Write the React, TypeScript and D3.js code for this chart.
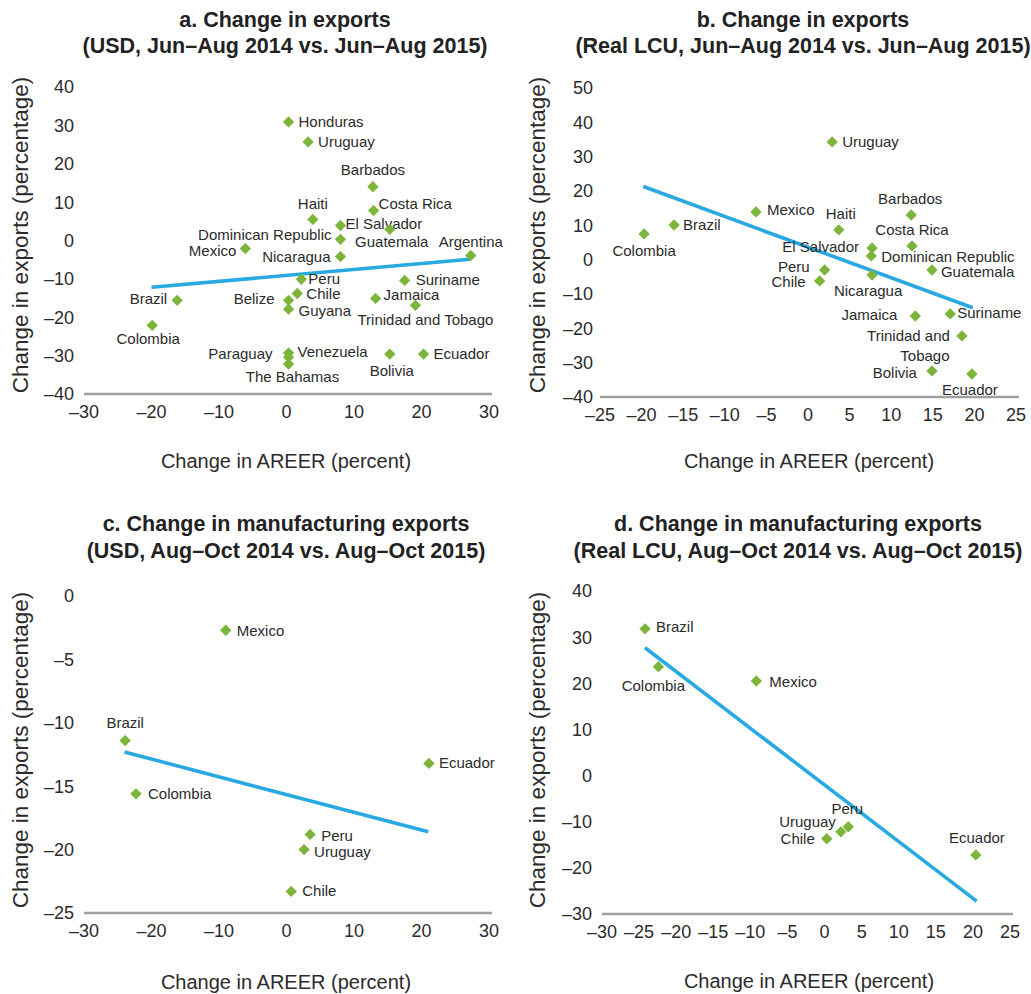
import React from "react";
import * as d3 from "d3";

// ---------- Panel a: USD, Jun–Aug ----------
const aNames = ["Honduras", "Uruguay", "Barbados", "Costa Rica", "Haiti", "El Salvador", "Guatemala", "Dominican Republic", "Mexico", "Nicaragua", "Argentina", "Peru", "Suriname", "Chile", "Brazil", "Belize", "Jamaica", "Trinidad and Tobago", "Guyana", "Colombia", "Venezuela", "Paraguay", "The Bahamas", "Bolivia", "Ecuador"];
const aX = [0.3, 3.2, 12.8, 12.9, 3.9, 8.0, 15.3, 8.0, -6.1, 8.0, 27.3, 2.2, 17.5, 1.6, -16.2, 0.3, 13.2, 19.1, 0.3, -19.9, 0.3, 0.3, 0.3, 15.3, 20.3];
const aY = [30.9, 25.7, 14.0, 7.8, 5.5, 3.9, 2.9, 0.3, -2.1, -4.2, -3.9, -10.1, -10.4, -13.8, -15.6, -15.6, -15.1, -16.9, -17.9, -22.1, -29.3, -30.4, -32.2, -29.6, -29.6];
const aTrendX = [-20.0, 27.2];
const aTrendY = [-12.2, -4.9];
const aXTicks = [-30, -20, -10, 0, 10, 20, 30];
const aYTicks = [-40, -30, -20, -10, 0, 10, 20, 30, 40];

// ---------- Panel b: Real LCU, Jun–Aug ----------
const bNames = ["Uruguay", "Mexico", "Brazil", "Colombia", "Haiti", "Barbados", "Costa Rica", "El Salvador", "Dominican Republic", "Peru", "Chile", "Guatemala", "Nicaragua", "Jamaica", "Suriname", "Trinidad and\nTobago", "Bolivia", "Ecuador"];
const bX = [2.9, -6.25, -16.1, -19.7, 3.7, 12.4, 12.5, 7.7, 7.6, 2.0, 1.4, 14.9, 7.7, 12.9, 17.1, 18.5, 14.9, 19.7];
const bY = [34.3, 13.9, 10.1, 7.5, 8.7, 13.0, 4.0, 3.4, 1.1, -3.0, -6.2, -3.0, -4.5, -16.4, -15.8, -22.2, -32.4, -33.3];
const bTrendX = [-19.8, 19.8];
const bTrendY = [21.3, -14.0];
const bXTicks = [-25, -20, -15, -10, -5, 0, 5, 10, 15, 20, 25];
const bYTicks = [-40, -30, -20, -10, 0, 10, 20, 30, 40, 50];

// ---------- Panel c: manufacturing, USD, Aug–Oct ----------
const cNames = ["Mexico", "Brazil", "Colombia", "Ecuador", "Peru", "Uruguay", "Chile"];
const cX = [-9.0, -23.9, -22.3, 21.1, 3.5, 2.6, 0.7];
const cY = [-2.7, -11.4, -15.6, -13.2, -18.8, -20.0, -23.3];
const cTrendX = [-24.0, 21.0];
const cTrendY = [-12.3, -18.6];
const cXTicks = [-30, -20, -10, 0, 10, 20, 30];
const cYTicks = [-25, -20, -15, -10, -5, 0];

// ---------- Panel d: manufacturing, Real LCU, Aug–Oct ----------
const dNames = ["Brazil", "Colombia", "Mexico", "Peru", "Uruguay", "Chile", "Ecuador"];
const dX = [-24.2, -22.4, -9.2, 3.2, 2.2, 0.3, 20.4];
const dY = [31.8, 23.6, 20.5, -11.1, -12.2, -13.7, -17.2];
const dTrendX = [-24.2, 20.5];
const dTrendY = [27.7, -27.2];
const dXTicks = [-30, -25, -20, -15, -10, -5, 0, 5, 10, 15, 20, 25];
const dYTicks = [-30, -20, -10, 0, 10, 20, 30, 40];

// ---------- label placement (layout only) ----------
type LP = [number, number, string];
const aLabelPos: LP[] = [
  [10, 5, "start"], [10, 5, "start"], [0, -12, "middle"], [5, -2, "start"], [0, -10, "middle"],
  [5, 3, "start"], [2, 18, "middle"], [-9, 1, "end"], [-9, 7, "end"], [-10, 5, "end"],
  [0, -8, "middle"], [7, 5, "start"], [11, 5, "start"], [9, 6, "start"], [-10, 4, "end"],
  [-14, 4, "end"], [8, 2, "start"], [10, 20, "middle"], [10, 7, "start"], [-4, 19, "middle"],
  [9, 4, "start"], [-16, 2, "end"], [4, 18, "middle"], [2, 22, "middle"], [10, 5, "start"],
];
const bLabelPos: LP[] = [
  [10, 5, "start"], [11, 3, "start"], [9, 5, "start"], [0, 22, "middle"], [2, -11, "middle"],
  [-1, -11, "middle"], [0, -11, "middle"], [-13, 4, "end"], [10, 6, "start"], [-15, 2, "end"],
  [-14, 6, "end"], [9, 7, "start"], [-4, 21, "middle"], [-18, 4, "end"], [7, 4, "start"],
  [-12, 5, "end"], [-15, 7, "end"], [-2, 21, "middle"],
];
const bSecondLine: [number, number][] = [[-37, 25]];
const cLabelPos: LP[] = [
  [11, 6, "start"], [0, -13, "middle"], [12, 5, "start"], [10, 5, "start"], [11, 7, "start"],
  [10, 7, "start"], [11, 5, "start"],
];
const dLabelPos: LP[] = [
  [11, 3, "start"], [-5, 24, "middle"], [13, 6, "start"], [-1, -13, "middle"], [-5, -5, "end"],
  [-12, 5, "end"], [1, -12, "middle"],
];

const FONT = "'Liberation Sans', Arial, Helvetica, sans-serif";
const GREEN = "#7db53c";
const BLUE = "#29a9e1";
const AXIS = "#a0a0a0";
const TEXT = "#2b2b2b";

const fmt = (v: number) => (v < 0 ? "\u2013" + Math.abs(v) : String(v));

type PanelProps = {
  title1: string; title2: string; titleX: number; titleY: number;
  xDomain: [number, number]; xRange: [number, number];
  yDomain: [number, number]; yRange: [number, number];
  xTicks: number[]; yTicks: number[]; yLabelX: number;
  names: string[]; xs: number[]; ys: number[]; pos: LP[];
  trendX: number[]; trendY: number[];
  yTitleX: number; yTitleY: number; xTitleX: number; xTitleY: number;
  second?: [number, number][];
};

function Panel(p: PanelProps) {
  const x = d3.scaleLinear().domain(p.xDomain).range(p.xRange);
  const y = d3.scaleLinear().domain(p.yDomain).range(p.yRange);
  const axisY = y(p.yDomain[0]);
  const diamond = d3.symbol().type(d3.symbolDiamond2).size(82)() as string;
  const line = d3.line<number>().x((_, i) => x(p.trendX[i])).y((v) => y(v));
  return (
    <g fontFamily={FONT}>
      <text x={p.titleX} y={p.titleY} textAnchor="middle" fontWeight="bold" fontSize={21.5} fill="#222">{p.title1}</text>
      <text x={p.titleX} y={p.titleY + 26.5} textAnchor="middle" fontWeight="bold" fontSize={21.5} fill="#222">{p.title2}</text>
      {p.yTicks.map((t) => (
        <text key={"y" + t} x={p.yLabelX} y={y(t)} dy="0.36em" textAnchor="end" fontSize={18} fill={TEXT}>{fmt(t)}</text>
      ))}
      {p.xTicks.map((t) => (
        <text key={"x" + t} x={x(t)} y={axisY + 24} textAnchor="middle" fontSize={18} fill={TEXT}>{fmt(t)}</text>
      ))}
      <line x1={p.xRange[0]} x2={p.xRange[1] + 3} y1={axisY} y2={axisY} stroke={AXIS} strokeWidth={2.6} />
      <path d={line(p.trendY) || ""} stroke={BLUE} strokeWidth={3.6} fill="none" />
      {p.names.map((n, i) => {
        const cx = x(p.xs[i]);
        const cy = y(p.ys[i]);
        const [dx, dy, anchor] = p.pos[i];
        const parts = n.split("\n");
        return (
          <g key={n}>
            <path d={diamond} transform={`translate(${cx},${cy})`} fill={GREEN} />
            <text x={cx + dx} y={cy + dy} textAnchor={anchor as any} fontSize={15} fill={TEXT}>{parts[0]}</text>
            {parts.slice(1).map((s, j) => {
              const o = (p.second || [])[j] || [0, 20];
              return (
                <text key={j} x={cx + o[0]} y={cy + o[1]} textAnchor="middle" fontSize={15} fill={TEXT}>{s}</text>
              );
            })}
          </g>
        );
      })}
      <text transform={`translate(${p.yTitleX},${p.yTitleY}) rotate(-90)`} textAnchor="middle" fontSize={22.5} fill={TEXT}>Change in exports (percentage)</text>
      <text x={p.xTitleX} y={p.xTitleY} textAnchor="middle" fontSize={20} fill={TEXT}>Change in AREER (percent)</text>
    </g>
  );
}

export default function App() {
  return (
    <svg width={1031} height={994} style={{ position: "absolute", left: 0, top: 0, background: "#fff" }}>
      <rect width={1031} height={994} fill="#fff" />
      <Panel title1="a. Change in exports" title2="(USD, Jun–Aug 2014 vs. Jun–Aug 2015)" titleX={285} titleY={26.5}
        xDomain={[-30, 30]} xRange={[84, 489]} yDomain={[-40, 40]} yRange={[394, 87]}
        xTicks={aXTicks} yTicks={aYTicks} yLabelX={74}
        names={aNames} xs={aX} ys={aY} pos={aLabelPos} trendX={aTrendX} trendY={aTrendY}
        yTitleX={28} yTitleY={235} xTitleX={286} xTitleY={468} />
      <Panel title1="b. Change in exports" title2="(Real LCU, Jun–Aug 2014 vs. Jun–Aug 2015)" titleX={803} titleY={26.5}
        xDomain={[-25, 25]} xRange={[600, 1016]} yDomain={[-40, 50]} yRange={[397, 88]}
        xTicks={bXTicks} yTicks={bYTicks} yLabelX={593}
        names={bNames} xs={bX} ys={bY} pos={bLabelPos} trendX={bTrendX} trendY={bTrendY} second={bSecondLine}
        yTitleX={545} yTitleY={235} xTitleX={809} xTitleY={468} />
      <Panel title1="c. Change in manufacturing exports" title2="(USD, Aug–Oct 2014 vs. Aug–Oct 2015)" titleX={286} titleY={531}
        xDomain={[-30, 30]} xRange={[84, 489]} yDomain={[-25, 0]} yRange={[913, 596]}
        xTicks={cXTicks} yTicks={cYTicks} yLabelX={74}
        names={cNames} xs={cX} ys={cY} pos={cLabelPos} trendX={cTrendX} trendY={cTrendY}
        yTitleX={28} yTitleY={750} xTitleX={286} xTitleY={989} />
      <Panel title1="d. Change in manufacturing exports" title2="(Real LCU, Aug–Oct 2014 vs. Aug–Oct 2015)" titleX={798} titleY={531}
        xDomain={[-30, 25]} xRange={[602, 1010]} yDomain={[-30, 40]} yRange={[914, 591]}
        xTicks={dXTicks} yTicks={dYTicks} yLabelX={592}
        names={dNames} xs={dX} ys={dY} pos={dLabelPos} trendX={dTrendX} trendY={dTrendY}
        yTitleX={545} yTitleY={750} xTitleX={809} xTitleY={988} />
    </svg>
  );
}
